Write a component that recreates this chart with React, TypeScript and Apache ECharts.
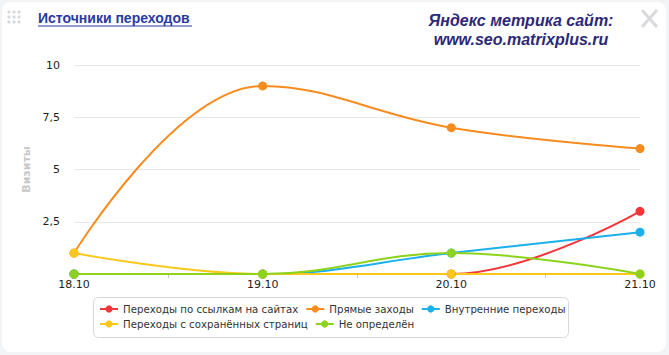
import React, { useEffect, useRef } from "react";
import * as echarts from "echarts";

const categories = ["18.10", "19.10", "20.10", "21.10"];
const seriesNames = [
  "Переходы по ссылкам на сайтах",
  "Прямые заходы",
  "Внутренние переходы",
  "Переходы с сохранённых страниц",
  "Не определён",
];
const seriesColors = ["#f4363b", "#f68c1f", "#1ab0ec", "#f9c81a", "#8dd31c"];
const linksValues = [0, 0, 0, 3];
const directValues = [1, 9, 7, 6];
const internalValues = [0, 0, 1, 2];
const savedValues = [1, 0, 0, 0];
const undefinedValues = [0, 0, 1, 0];
const yTicks = [2.5, 5, 7.5, 10];

const allValues = [linksValues, directValues, internalValues, savedValues, undefinedValues];

const legendText = {
  color: "#333",
  fontSize: 10.2,
  fontFamily: "'DejaVu Sans', Verdana, sans-serif",
};

export default function App() {
  const ref = useRef<HTMLDivElement>(null);
  useEffect(() => {
    if (!ref.current) return;
    const chart = echarts.init(ref.current, null, { renderer: "svg" });
    const dots: any[] = [];
    for (let r = 0; r < 3; r++)
      for (let c = 0; c < 3; c++)
        dots.push({
          type: "circle",
          shape: { cx: 9 + c * 5, cy: 12 + r * 5, r: 1.6 },
          style: { fill: "#d6d8dc" },
        });
    const legendBase = {
      left: 99,
      padding: 0,
      itemWidth: 18,
      itemHeight: 9,
      itemGap: 7,
      orient: "horizontal",
      textStyle: legendText,
    };
    chart.setOption({
      animation: false,
      backgroundColor: "#f3f4f6",
      graphic: [
        {
          type: "rect",
          shape: { x: 2, y: 2, width: 664, height: 350, r: 9 },
          style: { fill: "#ffffff" },
          z: -10,
        },
        {
          type: "rect",
          shape: { x: 93.5, y: 297.5, width: 475, height: 40, r: 5 },
          style: { fill: "none", stroke: "#d8d8d8", lineWidth: 1 },
        },
        ...dots,
        {
          type: "text",
          x: 38,
          y: 11,
          style: {
            text: "Источники переходов",
            fill: "#2a3aa0",
            font: "bold 14px 'Liberation Sans', Arial, sans-serif",
          },
        },
        {
          type: "line",
          shape: { x1: 38, y1: 26, x2: 192, y2: 26 },
          style: { stroke: "#2a3aa0", lineWidth: 1 },
        },
        {
          type: "text",
          x: 521,
          y: 11,
          style: {
            text: "Яндекс метрика сайт:\nwww.seo.matrixplus.ru",
            fill: "#2c2878",
            align: "center",
            lineHeight: 19,
            font: "italic bold 16px 'Liberation Sans', Arial, sans-serif",
          },
        },
        {
          type: "line",
          shape: { x1: 642, y1: 10, x2: 657, y2: 27 },
          style: { stroke: "#d9dadd", lineWidth: 3 },
        },
        {
          type: "line",
          shape: { x1: 657, y1: 10, x2: 642, y2: 27 },
          style: { stroke: "#d9dadd", lineWidth: 3 },
        },
      ],
      grid: { left: 74, right: 29, top: 65, bottom: 81, containLabel: false },
      xAxis: {
        type: "value",
        min: 0,
        max: categories.length - 1,
        interval: 0.5,
        axisLine: { show: false },
        axisTick: { show: true, length: 4, lineStyle: { color: "#c8c8c8" } },
        splitLine: { show: false },
        axisLabel: {
          color: "#222",
          fontSize: 11,
          fontFamily: "'DejaVu Sans', Verdana, sans-serif",
          margin: 5,
          formatter: (v: number) => (Number.isInteger(v) ? categories[v] : ""),
        },
      },
      yAxis: {
        type: "value",
        min: 0,
        max: yTicks[yTicks.length - 1],
        interval: yTicks[0],
        name: "Визиты",
        nameLocation: "middle",
        nameGap: 37,
        nameRotate: 90,
        nameTextStyle: {
          color: "#c8c8c8",
          fontWeight: "bold",
          fontSize: 11,
          fontFamily: "'DejaVu Sans', Verdana, sans-serif",
        },
        axisLine: { show: false },
        axisTick: { show: false },
        splitLine: { lineStyle: { color: "#e8e8e8" } },
        axisLabel: {
          color: "#222",
          fontSize: 11,
          fontFamily: "'DejaVu Sans', Verdana, sans-serif",
          margin: 14,
          formatter: (v: number) => (v === 0 ? "" : String(v).replace(".", ",")),
        },
      },
      legend: [
        { ...legendBase, top: 304, data: seriesNames.slice(0, 3) },
        { ...legendBase, top: 319, data: seriesNames.slice(3) },
      ],
      series: seriesNames.map((name, i) => ({
        name,
        type: "line",
        smooth: 0.4,
        symbol: "circle",
        symbolSize: 9,
        showSymbol: true,
        color: seriesColors[i],
        lineStyle: { width: 2 },
        data: allValues[i].map((v, j) => [j, v]),
      })),
    });
    return () => chart.dispose();
  }, []);
  return (
    <div
      ref={ref}
      style={{ position: "fixed", left: 0, top: 0, width: 669, height: 355 }}
    />
  );
}
